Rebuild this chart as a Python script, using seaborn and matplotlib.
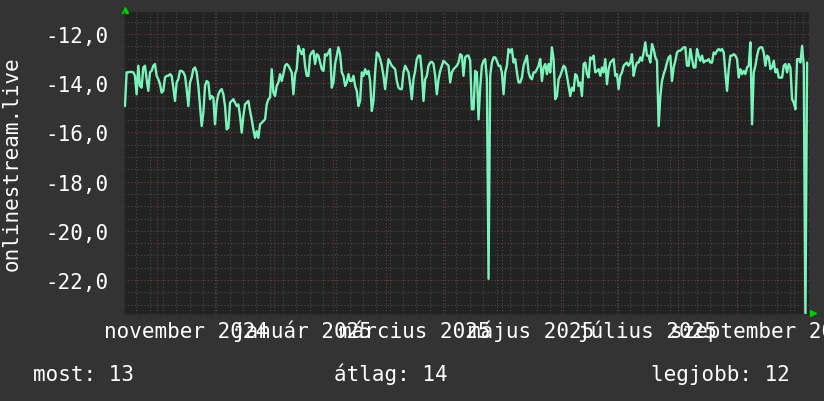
import pandas as pd
import matplotlib
matplotlib.use('Agg')
import matplotlib.pyplot as plt
import matplotlib.dates as mdates
from matplotlib.ticker import MultipleLocator, FuncFormatter
import seaborn as sns

# daily values (oct 2024 -> oct 2025)
values_part1 = [
    -14.93, -13.56, -13.56, -13.54, -13.54, -13.56, -13.70, -14.45, -13.29, -14.11,
    -14.18, -13.36, -13.29, -13.84, -14.31, -13.56, -13.50, -13.29, -13.22, -13.70,
    -13.84, -14.04, -14.38, -14.31, -13.77, -13.70, -13.70, -13.63, -13.70, -14.18,
    -14.72, -13.97, -13.84, -13.50, -13.50, -13.56, -13.70, -14.24, -14.93, -13.97,
    -13.77, -13.43, -13.36, -13.56, -14.11, -14.93, -15.74, -15.20, -14.11, -13.91,
    -13.97, -14.65, -14.52, -14.59, -15.67, -14.79, -14.45, -14.31, -14.24, -14.45,
    -14.93, -15.88, -15.81, -14.79, -14.72, -14.65, -14.79, -14.93, -14.86, -15.33,
    -16.01, -15.33, -14.86, -14.79, -14.72, -15.13, -15.47, -15.88, -16.22, -15.95,
    -16.22, -15.67, -15.61, -15.54, -15.47, -14.86, -14.65, -14.59, -13.43, -14.38,
    -14.52, -14.11, -13.97, -13.63, -13.91, -13.63, -13.29, -13.22, -13.29, -13.43,
    -13.56, -14.45, -13.63, -13.43, -12.48, -12.68, -12.82, -12.61, -13.29, -13.70,
    -13.70, -12.88, -12.75, -12.68, -13.22, -12.82, -12.88, -13.16, -13.43, -13.50,
    -12.82, -12.88, -12.75, -12.61, -14.18, -13.97, -13.22, -12.88, -12.54, -12.82,
    -13.56, -13.70, -14.11, -13.97, -13.63, -13.91, -13.91, -13.70, -14.11, -14.31,
    -14.93, -14.72, -13.56, -13.70, -13.43, -13.63, -13.50, -13.91, -15.13, -14.72,
    -13.56, -12.75, -12.82, -13.02, -13.29, -13.70, -14.24, -13.63, -13.02, -13.16,
    -13.29, -13.36, -13.43, -13.91, -14.18, -14.24, -14.24, -13.56, -13.29, -13.43,
    -13.56, -14.04, -14.65, -13.84, -13.50, -13.02, -12.88,
]
values_part2 = [
    -12.88, -13.56, -14.72, -13.84, -13.70, -13.29, -13.16, -13.13, -13.22, -13.70,
    -14.45, -13.84, -13.50, -13.29, -13.09, -13.16, -13.22, -13.29, -13.97, -13.56,
    -13.43, -13.36, -13.29, -13.16, -12.82, -12.88, -13.70, -12.95, -12.88, -12.88,
    -13.09, -15.06, -15.06, -13.50, -13.56, -15.47, -14.18, -13.29, -13.09, -13.02,
    -13.84, -21.95, -13.70, -13.16, -12.95, -12.95, -13.09, -13.29, -13.29, -13.56,
    -14.45, -13.56, -13.29, -12.61, -12.75, -12.61, -13.16, -13.02, -13.56, -13.97,
    -13.97, -13.77, -13.29, -13.09, -12.88, -13.56, -13.77, -13.84, -13.56, -13.56,
    -13.43, -13.29, -13.02, -13.91, -13.36, -13.22, -13.63, -13.22, -13.56, -12.54,
    -13.02, -14.65, -14.52, -13.84, -13.70, -13.50, -13.29, -13.36, -13.70, -14.11,
    -14.52, -14.18, -14.31, -13.63, -13.70, -14.11, -13.97, -14.52, -13.22, -13.16,
    -13.63, -13.77, -12.95, -13.02, -12.88, -13.56, -13.50, -13.43, -13.70, -13.36,
    -13.56, -13.02, -14.04, -13.43, -13.16, -13.09, -13.02, -13.70, -13.63, -14.24,
    -13.70, -13.56, -13.29, -13.22, -13.16, -13.29, -13.16, -12.82, -13.70, -13.36,
    -13.16, -13.16, -12.95, -13.09, -12.75, -12.34, -12.88, -12.88, -13.16, -12.41,
    -12.61, -12.95, -13.09, -15.74, -14.52, -13.91, -13.63, -13.43, -13.16, -12.95,
    -12.88, -13.91, -13.36, -13.09, -12.75, -12.68, -12.68, -12.61, -12.54, -12.54,
    -13.29, -13.29, -12.61, -13.02, -13.36, -13.36, -12.61, -12.88, -13.09, -12.88,
    -13.16, -13.09, -13.09, -13.02, -13.16, -13.16, -12.75, -12.82, -12.68, -12.61,
    -12.68, -12.61, -12.75, -13.56, -14.31, -13.43, -12.88, -12.88, -12.82, -12.88,
    -13.02, -13.77, -13.43, -13.63, -13.50, -13.63, -13.36, -13.29, -12.34, -15.67,
    -13.56, -13.29, -12.88, -12.61, -12.54, -12.54, -12.75, -13.29, -12.88, -12.95,
    -13.43, -13.36, -13.09, -13.56, -13.43, -13.77, -13.77, -13.77, -13.29, -13.22,
    -13.56, -13.22, -13.36, -14.65, -14.79, -15.06, -13.02, -13.02, -13.16, -12.48,
    -13.29, -23.60, -13.16,
]
values = values_part1 + values_part2

start_date = '2024-10-15'
end_date = '2025-10-08'
month_names = ['január', 'február', 'március', 'április', 'május', 'június',
               'július', 'augusztus', 'szeptember', 'október', 'november', 'december']
y_label = 'onlinestream.live'
legend_labels = ['most', 'átlag', 'legjobb']
legend_values = [13, 14, 12]

BG = '#333333'
PLOT_BG = '#222222'
LINE = '#7cf3bb'
GRID = '#4c4c4c'
GRID_MAJOR = '#7a3a3a'
ARROW = '#00cc00'

sns.set_style('dark')
plt.rcParams['font.family'] = ['DejaVu Sans Mono', 'DejaVu Sans']

df = pd.DataFrame({
    'date': pd.date_range(start_date, end_date, periods=len(values)),
    'value': values,
})

fig = plt.figure(figsize=(8.24, 4.02), dpi=100, facecolor=BG)
ax = fig.add_axes([124 / 824, 1 - 315 / 402, 685 / 824, 302 / 402])
ax.set_facecolor(PLOT_BG)

sns.lineplot(data=df, x='date', y='value', ax=ax, color=LINE, linewidth=1.7, zorder=5)

ax.set_xlim(pd.Timestamp('2024-10-14 12:00'), pd.Timestamp('2025-10-09'))
ax.set_ylim(-23.38, -11.106)

# y axis
ax.yaxis.set_major_locator(MultipleLocator(2))
ax.yaxis.set_minor_locator(MultipleLocator(0.5))
ax.yaxis.set_major_formatter(FuncFormatter(lambda v, p: f'{v:.1f}'.replace('.', ',')))

# x axis: labels centred mid-month every two months, weekly grid
def month_fmt(x, pos):
    d = mdates.num2date(x)
    return f'{month_names[d.month - 1]} {d.year}'

ax.xaxis.set_major_locator(mdates.MonthLocator(bymonth=[1, 3, 5, 7, 9, 11], bymonthday=16))
ax.xaxis.set_major_formatter(FuncFormatter(month_fmt))
ax.xaxis.set_minor_locator(mdates.WeekdayLocator(byweekday=mdates.MO))

dots = (0, (1, 2))
ax.grid(True, which='minor', color=GRID, linestyle=dots, linewidth=0.8)
ax.grid(True, which='major', axis='y', color=GRID_MAJOR, linestyle=dots, linewidth=0.8)
ax.grid(False, which='major', axis='x')
month_starts = pd.date_range('2024-11-01', '2025-10-01', freq='MS')
ax.vlines(month_starts, 0, 1, transform=ax.get_xaxis_transform(),
          colors=GRID_MAJOR, linestyles=dots, linewidth=0.8, zorder=1)

ax.tick_params(which='both', length=0, colors='white', labelsize=15)
ax.tick_params(axis='y', pad=11)
ax.tick_params(axis='x', pad=16.5)
# same baseline for all month labels (accents would push some down)
for lab in ax.get_xticklabels():
    lab.set_verticalalignment('baseline')

for s in ax.spines.values():
    s.set_visible(False)
ax.spines['left'].set_visible(True)
ax.spines['left'].set_color('#2c2c2c')
ax.spines['bottom'].set_visible(True)
ax.spines['bottom'].set_color('#2c2c2c')

ax.set_xlabel('')
ax.set_ylabel(y_label, fontsize=15, color='white')
ax.yaxis.set_label_coords(-0.150, 0.5)

# small rrdtool-style arrows
ax.plot([0.0015], [1.007], marker='^', ms=5, color=ARROW, transform=ax.transAxes, clip_on=False)
ax.plot([1.006], [0.002], marker='>', ms=5, color=ARROW, transform=ax.transAxes, clip_on=False)

# legend line
legend_x = [33, 334, 651]
for x, lab, val in zip(legend_x, legend_labels, legend_values):
    fig.text(x / 824, 1 - 381 / 402, f'{lab}: {val}', fontsize=15, color='white', va='baseline')

fig.savefig('out.png', dpi=100, facecolor=BG)
